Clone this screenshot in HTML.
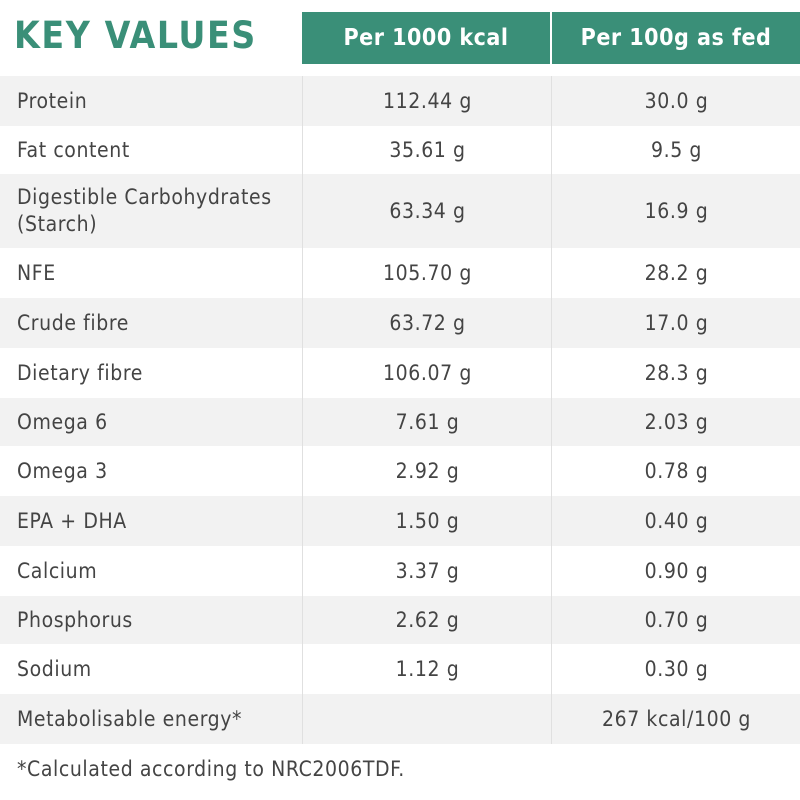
<!DOCTYPE html>
<html><head><meta charset="utf-8"><style>
body{margin:0;width:800px;height:800px;background:#fff;font-family:"DejaVu Sans Condensed","DejaVu Sans","Liberation Sans",sans-serif;color:#444;position:relative;overflow:hidden}
.a{position:absolute;box-sizing:border-box}
.title{left:14px;top:14px;font-size:37px;font-weight:bold;color:#3a8f78;letter-spacing:1.6px;font-family:"DejaVu Sans Condensed","Liberation Sans",sans-serif}
.hd{top:12px;height:52px;background:#3a8f78;color:#fff;font-size:23px;font-weight:bold;letter-spacing:0.5px;display:flex;align-items:center;justify-content:center}
.row{left:0;width:800px}
.g{background:#f2f2f2}
.c{position:absolute;top:0;height:100%;display:flex;align-items:center;font-size:21px;letter-spacing:0.6px}
.c1{left:17px;width:285px;line-height:27px}
.c2{left:302px;width:249px;justify-content:center;border-left:1px solid #e0e0e0}
.c3{left:551px;width:249px;justify-content:center;border-left:1px solid #e0e0e0}
.foot{left:17px;top:757px;font-size:21px;letter-spacing:0.6px}
</style></head><body>
<div class="a title">KEY VALUES</div>
<div class="a hd" style="left:302px;width:248px">Per 1000 kcal</div>
<div class="a hd" style="left:552px;width:248px">Per 100g as fed</div>
<div id="rows"></div>
<div class="a foot">*Calculated according to NRC2006TDF.</div>
<script>
const labels=["Protein","Fat content","Digestible Carbohydrates<br>(Starch)","NFE","Crude fibre","Dietary fibre","Omega 6","Omega 3","EPA + DHA","Calcium","Phosphorus","Sodium","Metabolisable energy*"];
const per1000=["112.44 g","35.61 g","63.34 g","105.70 g","63.72 g","106.07 g","7.61 g","2.92 g","1.50 g","3.37 g","2.62 g","1.12 g",""];
const per100=["30.0 g","9.5 g","16.9 g","28.2 g","17.0 g","28.3 g","2.03 g","0.78 g","0.40 g","0.90 g","0.70 g","0.30 g","267 kcal/100 g"];
const bounds=[76,126,174,248,298,348,398,446,496,546,596,644,694,744];
const host=document.getElementById('rows');
labels.forEach((l,i)=>{
  const r=document.createElement('div');
  r.className='a row'+(i%2===0?' g':'');
  r.style.top=bounds[i]+'px';r.style.height=(bounds[i+1]-bounds[i])+'px';
  
  
  r.innerHTML='<div class="c c1">'+l+'</div><div class="c c2">'+per1000[i]+'</div><div class="c c3">'+per100[i]+'</div>';
  host.appendChild(r);
});
</script>
</body></html>
